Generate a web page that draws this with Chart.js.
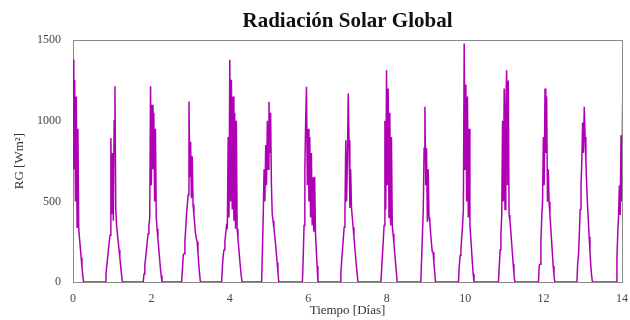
<!DOCTYPE html>
<html><head><meta charset="utf-8">
<script src="https://cdn.jsdelivr.net/npm/chart.js@4"></script>
<style>html,body{margin:0;padding:0;background:#fff}#wrap{width:630px;height:320px;position:relative}</style>
</head><body><div id="wrap"><canvas id="c"></canvas></div>
<script>
// Sampling step of the record (30 min, in days)
const STEP = 1 / 48;
// Time (days) at which each daily record segment begins
const dayStart = [0, 0.82, 1.79, 2.77, 3.79, 4.81, 5.85, 6.81, 7.85, 8.87, 9.83, 10.85, 11.87, 12.85, 13.85];
// Global solar radiation (W/m2) per day, sampled every STEP from dayStart
const day0  = [1380, 700, 1255, 500, 1150, 340, 950, 335, 270, 210, 150, 90, 40, 0];
const day1  = [0, 50, 100, 150, 200, 250, 290, 893, 420, 800, 380, 1000, 1215, 450, 353, 300, 250, 200, 150, 100, 50, 0];
const day2  = [0, 50, 100, 150, 200, 250, 300, 350, 397, 1215, 600, 1100, 700, 1050, 500, 950, 400, 330, 270, 210, 150, 90, 40, 0];
const day3  = [0, 80, 167, 175, 250, 330, 420, 480, 540, 1120, 650, 870, 520, 780, 480, 420, 360, 300, 270, 250, 180, 110, 50, 0];
const day4  = [0, 100, 167, 200, 250, 300, 350, 340, 900, 400, 1378, 500, 1255, 450, 1150, 380, 1050, 330, 1000, 330, 270, 210, 150, 90, 40, 0];
const day5  = [0, 200, 415, 700, 500, 850, 600, 1000, 700, 1118, 800, 1050, 600, 420, 380, 335, 290, 240, 180, 120, 60, 0];
const day6  = [0, 150, 350, 700, 1000, 1211, 600, 950, 500, 900, 400, 800, 350, 650, 312, 653, 300, 200, 100, 0];
const day7  = [0, 60, 130, 200, 270, 340, 420, 880, 500, 750, 1170, 880, 459, 700, 460, 400, 340, 280, 220, 160, 100, 50, 0];
const day8  = [0, 80, 170, 260, 350, 1000, 450, 1314, 600, 1200, 400, 1050, 350, 900, 350, 300, 240, 180, 120, 60, 0];
const day9  = [0, 150, 300, 450, 829, 1087, 600, 829, 374, 700, 400, 374, 300, 240, 188, 185, 120, 60, 0];
const day10 = [0, 100, 165, 200, 280, 350, 450, 1480, 700, 1225, 500, 1150, 400, 950, 350, 280, 200, 120, 50, 0];
const day11 = [0, 100, 200, 300, 415, 1000, 500, 1200, 450, 1100, 1314, 600, 1250, 415, 380, 320, 250, 180, 110, 50, 0];
const day12 = [0, 105, 110, 250, 400, 500, 900, 600, 1200, 800, 1150, 498, 700, 498, 420, 340, 260, 180, 100, 40, 0];
const day13 = [0, 120, 167, 300, 450, 600, 746, 990, 800, 1087, 900, 746, 600, 480, 380, 280, 190, 100, 40, 0];
const day14 = [0, 150, 300, 415, 600, 415, 911, 500, 1118];
const days = [day0, day1, day2, day3, day4, day5, day6, day7, day8, day9, day10, day11, day12, day13, day14];
// Axis ticks
const xTicks = [0, 2, 4, 6, 8, 10, 12, 14];
const yTicks = [0, 500, 1000, 1500];

const points = [];
days.forEach((vals, d) => {
  vals.forEach((v, i) => points.push({ x: dayStart[d] + i * STEP, y: v }));
});

const serif = 'Liberation Serif, Times New Roman, serif';
const axisCol = '#8a8a8a';

new Chart(document.getElementById('c'), {
  type: 'line',
  data: {
    datasets: [{
      data: points,
      borderColor: '#b000b4',
      borderWidth: 1.5,
      pointRadius: 0,
      tension: 0,
      fill: false
    }]
  },
  options: {
    responsive: true,
    maintainAspectRatio: false,
    animation: false,
    layout: { padding: { top: 1, right: 4, bottom: 0, left: 0 } },
    plugins: {
      legend: { display: false },
      tooltip: { enabled: false },
      title: {
        display: true,
        fullSize: false,
        text: 'Radiación Solar Global',
        color: '#111',
        font: { family: serif, size: 21, weight: 'bold' },
        padding: { top: 8, bottom: 6 }
      }
    },
    scales: {
      x: {
        type: 'linear', min: 0, max: 14,
        afterBuildTicks: s => { s.ticks = xTicks.map(v => ({ value: v })); },
        ticks: { color: '#444', font: { family: serif, size: 12 }, padding: 2, maxRotation: 0, callback: v => String(v) },
        grid: { display: false },
        border: { display: true, color: axisCol },
        title: { display: true, text: 'Tiempo [Días]', color: '#333', font: { family: serif, size: 13 }, padding: { top: 0, bottom: 2 } },
        afterFit: s => { s.height = 38; }
      },
      y: {
        min: 0, max: 1500,
        afterBuildTicks: s => { s.ticks = yTicks.map(v => ({ value: v })); },
        ticks: { color: '#444', font: { family: serif, size: 12 }, padding: 4, callback: v => String(v) },
        grid: { display: false },
        border: { display: true, color: axisCol },
        title: { display: true, text: 'RG [Wm²]', color: '#333', font: { family: serif, size: 13 }, padding: { top: 12, bottom: 4 } },
        afterFit: s => { s.width = 73; }
      },
      xTop: {
        axis: 'x', type: 'linear', position: 'top', min: 0, max: 14,
        ticks: { display: false }, grid: { display: false },
        border: { display: true, color: axisCol },
        afterFit: s => { s.height = 0; }
      },
      yRight: {
        axis: 'y', type: 'linear', position: 'right', min: 0, max: 1500,
        ticks: { display: false }, grid: { display: false },
        border: { display: true, color: axisCol },
        afterFit: s => { s.width = 0; }
      }
    }
  }
});
</script></body></html>
